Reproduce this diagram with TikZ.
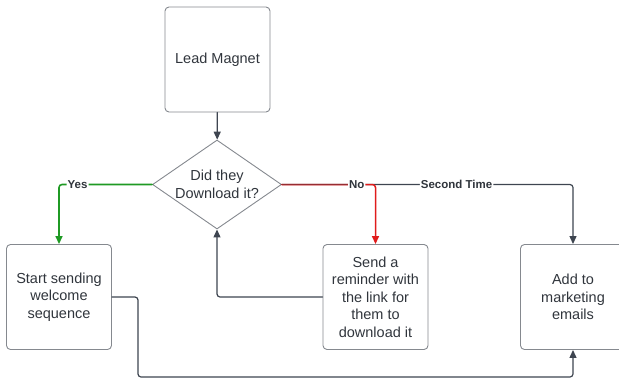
\documentclass[tikz,border=0pt]{standalone}
\usepackage{fontspec}
\setmainfont{Liberation Sans}
\usetikzlibrary{shapes.geometric,arrows.meta}
\definecolor{boxedge}{HTML}{85898F}
\definecolor{txt}{HTML}{30353C}
\definecolor{flowline}{HTML}{3E4550}
\definecolor{yesgreen}{HTML}{1F9A24}
\definecolor{nored}{HTML}{E01B1B}
\begin{document}
\begin{tikzpicture}[x=1pt,y=-1pt, font=\fontsize{14.5}{17.5}\selectfont, line join=round, line cap=round,
	>={Triangle[length=8pt,width=7pt]}]
	\tikzset{box/.style={draw=boxedge, rounded corners=4pt, line width=0.9pt, text=txt,
		minimum width=105pt, minimum height=105pt, inner sep=0pt, align=center},
	decision/.style={diamond, aspect=1.45, draw=boxedge, line width=0.9pt, text=txt, inner sep=-3pt,
		minimum width=129pt, minimum height=89pt, align=center},
	flow/.style={draw=flowline, line width=1.2pt, rounded corners=3pt},
	tag/.style={fill=white, text=txt, inner sep=1pt, font=\fontsize{11.5}{13}\selectfont\bfseries}}
	\useasboundingbox (0,0) rectangle (619,378);
	\node[box] (lead) at (217.5,59.5) {Lead Magnet};
	\node[decision] (ask) at (217,184.5) {Did they\\Download it?};
	\node[box] (welcome) at (59,297) {Start sending\\welcome\\sequence};
	\node[box] (remind) at (375.5,297) {Send a\\reminder with\\the link for\\them to\\download it};
	\node[box] (market) at (573,297) {Add to\\marketing\\emails};
	\coordinate (low) at (138,377);
	%
	\draw[->, flow] (lead) -- (ask);
	\draw[->, flow, draw=yesgreen, line width=1.6pt] (ask.west) -| node[tag, pos=0.4]{Yes} (welcome.north);
	\draw[->, flow] (ask.east) -| node[tag, pos=0.3]{Second Time} (market.north);
	\draw[->, flow, draw=nored, line width=1.5pt] (ask.east) -| node[tag, pos=0.4] (nolab) {No} (remind.north);
	\draw[flowline, line width=1.2pt, opacity=0.45] (ask.east) -- (nolab.west);
	\draw[->, flow] (remind.west) -| (ask.south);
	\draw[->, flow] (welcome.east) -| (low) -| (market.south);
\end{tikzpicture}
\end{document}
